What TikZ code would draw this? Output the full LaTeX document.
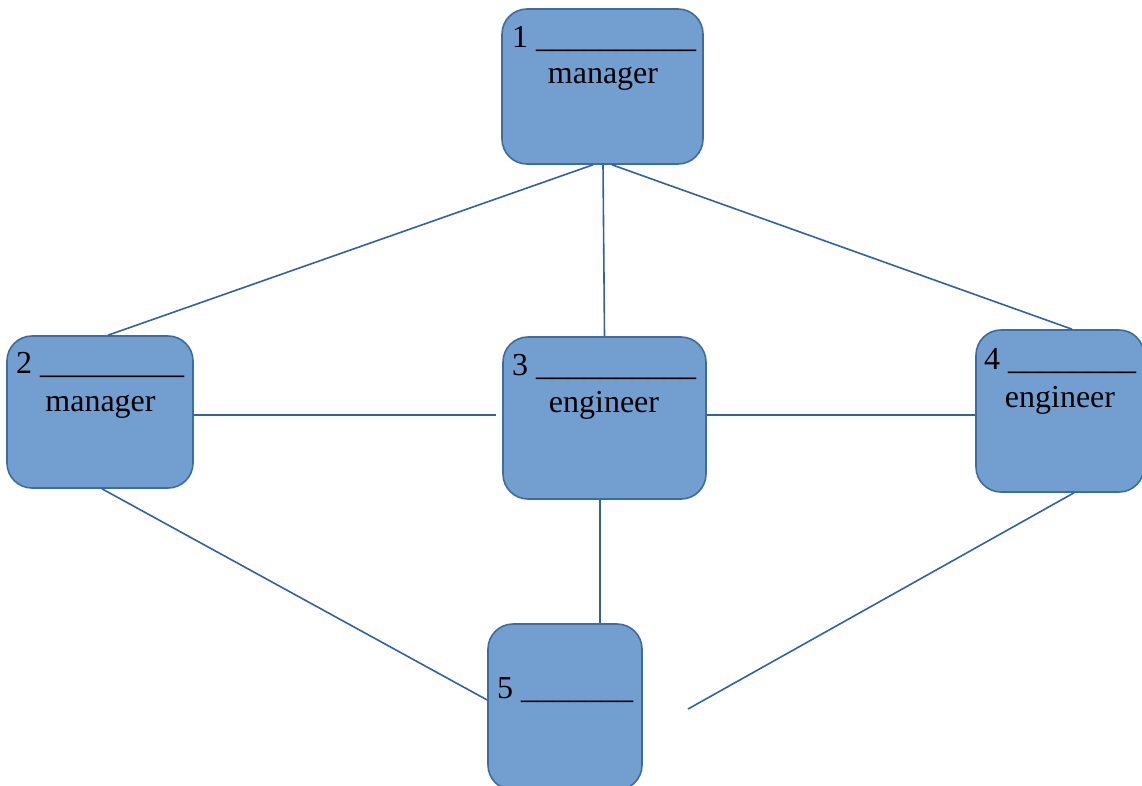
\documentclass[tikz,border=0pt]{standalone}
\usepackage{fontspec}
\setmainfont{Liberation Serif}
\definecolor{boxfill}{RGB}{114,159,207}
\definecolor{boxdraw}{RGB}{60,108,160}
\definecolor{linkc}{RGB}{52,96,164}
\begin{document}
\begin{tikzpicture}[x=1pt,y=-1pt,
  box/.style={draw=boxdraw, fill=boxfill, line width=1.6pt, rounded corners=25pt, inner sep=0pt},
  lbl/.style={inner sep=0pt, font=\fontsize{32}{37}\selectfont, text=black},
  link/.style={draw=linkc, line width=1.6pt}]
\clip (0,0) rectangle (1142,785);
\fill[white] (0,0) rectangle (1142,785);
% boxes
\node[box, minimum width=201pt, minimum height=155pt] (b1) at (602.5,86.5) {};
\node[box, minimum width=186pt, minimum height=152pt] (b2) at (100,412) {};
\node[box, minimum width=203pt, minimum height=162pt] (b3) at (604.5,418) {};
\node[box, minimum width=168pt, minimum height=162pt] (b4) at (1060,411) {};
\node[box, minimum width=154pt, minimum height=166pt] (b5) at (565,707) {};
\coordinate (free) at (688,709);
% connectors
\draw[link] ([xshift=-9.5pt]b1.south) -- ([xshift=8pt]b2.north);
\draw[link] ([xshift=0.5pt]b1.south) -- (b3.north);
\draw[link] ([xshift=9.5pt]b1.south) -- ([xshift=12pt]b4.north);
\draw[link] ([yshift=-3pt]b2.east) -- ([xshift=-6pt,yshift=3pt]b3.west);
\draw[link] ([yshift=3pt]b3.east) -- ([yshift=-4pt]b4.west);
\draw[link] ([xshift=2pt]b2.south) -- ([yshift=7pt]b5.west);
\draw[link] ([xshift=-4.5pt]b3.south) -- ([xshift=35pt]b5.north);
\draw[link] ([xshift=14pt]b4.south) -- (free);
% texts
\node[lbl, anchor=base west] (t1a) at (512,47) {1 \_\_\_\_\_\_\_\_\_\_};
\node[lbl, anchor=base] (t1b) at (603,83) {manager};
\node[lbl, anchor=base west] (t2a) at (16,373) {2 \_\_\_\_\_\_\_\_\_};
\node[lbl, anchor=base] (t2b) at (100.5,411) {manager};
\node[lbl, anchor=base west] (t3a) at (512,375) {3 \_\_\_\_\_\_\_\_\_\_};
\node[lbl, anchor=base] (t3b) at (604,412) {engineer};
\node[lbl, anchor=base west] (t4a) at (984,369) {4 \_\_\_\_\_\_\_\_};
\node[lbl, anchor=base] (t4b) at (1060,407) {engineer};
\node[lbl, anchor=base west] (t5a) at (497,698) {5 \_\_\_\_\_\_\_};
\end{tikzpicture}
\end{document}
